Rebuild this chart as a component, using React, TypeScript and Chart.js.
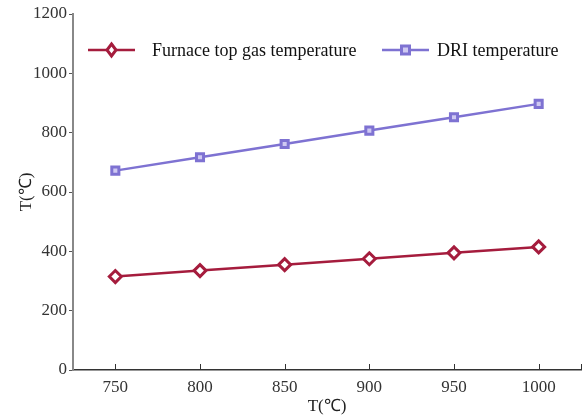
import React, { useEffect, useRef } from "react";
import { Chart, registerables } from "chart.js";

Chart.register(...registerables);

const categories = [750, 800, 850, 900, 950, 1000];
const furnaceTopGas = [315, 335, 355, 375, 395, 415];
const driTemp = [672, 717, 762, 807, 852, 897];
const seriesNames = ["Furnace top gas temperature", "DRI temperature"];
const xTicks = [750, 800, 850, 900, 950, 1000];
const axisTitle = "T(\u2103)";

const RED = "#A51C3D";
const PURPLE = "#7E72D2";
const PURPLE_FILL = "#CFC9F2";
const FONT = "'Liberation Serif', 'Times New Roman', serif";

const legendPlugin = {
  id: "customLegend",
  afterDraw(chart: any) {
    const ctx = chart.ctx;
    // inward x-axis tick marks
    const xs = chart.scales.x;
    ctx.save();
    ctx.strokeStyle = "#333";
    ctx.lineWidth = 1;
    xs.ticks.forEach((t: any) => {
      const px = Math.round(xs.getPixelForValue(t.value)) + 0.5;
      ctx.beginPath();
      ctx.moveTo(px, xs.top);
      ctx.lineTo(px, xs.top - 6);
      ctx.stroke();
    });
    ctx.restore();

    const items = [
      { x: 88, text: seriesNames[0], color: RED, style: "diamond" },
      { x: 382, text: seriesNames[1], color: PURPLE, style: "square" },
    ];
    const y = 50;
    ctx.save();
    items.forEach((it) => {
      ctx.strokeStyle = it.color;
      ctx.lineWidth = 2.5;
      ctx.beginPath();
      ctx.moveTo(it.x, y);
      ctx.lineTo(it.x + 47, y);
      ctx.stroke();
      const cx = it.x + 23.5;
      if (it.style === "diamond") {
        ctx.lineWidth = 3;
        ctx.fillStyle = "#fff";
        ctx.beginPath();
        ctx.moveTo(cx, y - 6);
        ctx.lineTo(cx + 4.5, y);
        ctx.lineTo(cx, y + 6);
        ctx.lineTo(cx - 4.5, y);
        ctx.closePath();
        ctx.fill();
        ctx.stroke();
      } else {
        ctx.lineWidth = 3;
        ctx.fillStyle = PURPLE_FILL;
        ctx.fillRect(cx - 4, y - 4, 8, 8);
        ctx.strokeRect(cx - 4, y - 4, 8, 8);
      }
      ctx.fillStyle = "#111";
      ctx.font = `18px ${FONT}`;
      ctx.textBaseline = "middle";
      ctx.textAlign = "left";
      ctx.fillText(it.text, it.x + (it.style === "diamond" ? 64 : 55), y + 1);
    });
    ctx.restore();
  },
};

export default function App() {
  const ref = useRef<HTMLCanvasElement>(null);
  useEffect(() => {
    document.body.style.margin = "0";
    const chart = new Chart(ref.current!, {
      type: "line",
      data: {
        datasets: [
          {
            label: seriesNames[0],
            data: categories.map((c, i) => ({ x: c, y: furnaceTopGas[i] })),
            borderColor: RED,
            backgroundColor: "#fff",
            borderWidth: 2.5,
            pointStyle: "rectRot",
            pointRadius: 6,
            pointBorderWidth: 3,
            pointBorderColor: RED,
          },
          {
            label: seriesNames[1],
            data: categories.map((c, i) => ({ x: c, y: driTemp[i] })),
            borderColor: PURPLE,
            backgroundColor: PURPLE_FILL,
            borderWidth: 2.5,
            pointStyle: "rect",
            pointRadius: 5,
            pointBorderWidth: 3,
            pointBorderColor: PURPLE,
          },
        ],
      },
      options: {
        animation: false,
        responsive: false,
        layout: { autoPadding: false, padding: { top: 14, right: 3, left: 0, bottom: 0 } },
        plugins: { legend: { display: false }, tooltip: { enabled: false } },
        scales: {
          x: {
            type: "linear",
            min: 725,
            max: 1025,
            afterBuildTicks: (s: any) => {
              s.ticks = [...xTicks, 1025].map((v) => ({ value: v }));
            },
            afterFit: (s: any) => {
              s.height = 48;
              s.paddingRight = 0;
              s.paddingLeft = 0;
            },
            ticks: {
              callback: (v: any) => (xTicks.includes(v) ? String(v) : ""),
              font: { family: FONT, size: 17 },
              color: "#333",
              padding: 7,
              maxRotation: 0,
            },
            grid: { drawOnChartArea: false, drawTicks: false },
            border: { color: "#333", width: 1.5 },
            title: {
              display: true,
              text: axisTitle,
              font: { family: FONT, size: 17 },
              color: "#222",
              padding: { top: 0, bottom: 1 },
            },
          },
          y: {
            min: 0,
            max: 1200,
            afterFit: (s: any) => {
              s.width = 73;
            },
            ticks: {
              stepSize: 200,
              callback: (v: any) => String(v),
              font: { family: FONT, size: 17 },
              color: "#333",
              padding: 2,
            },
            grid: { drawOnChartArea: false, drawTicks: true, tickLength: 4, color: "#555", lineWidth: 1 },
            border: { color: "#888", width: 2 },
            title: {
              display: true,
              text: axisTitle,
              font: { family: FONT, size: 17 },
              color: "#222",
              padding: { top: 16, bottom: 0 },
            },
          },
        },
      },
      plugins: [legendPlugin],
    } as any);
    return () => chart.destroy();
  }, []);
  return (
    <div style={{ width: 584, height: 418 }}>
      <canvas ref={ref} width={584} height={418} style={{ display: "block" }} />
    </div>
  );
}
